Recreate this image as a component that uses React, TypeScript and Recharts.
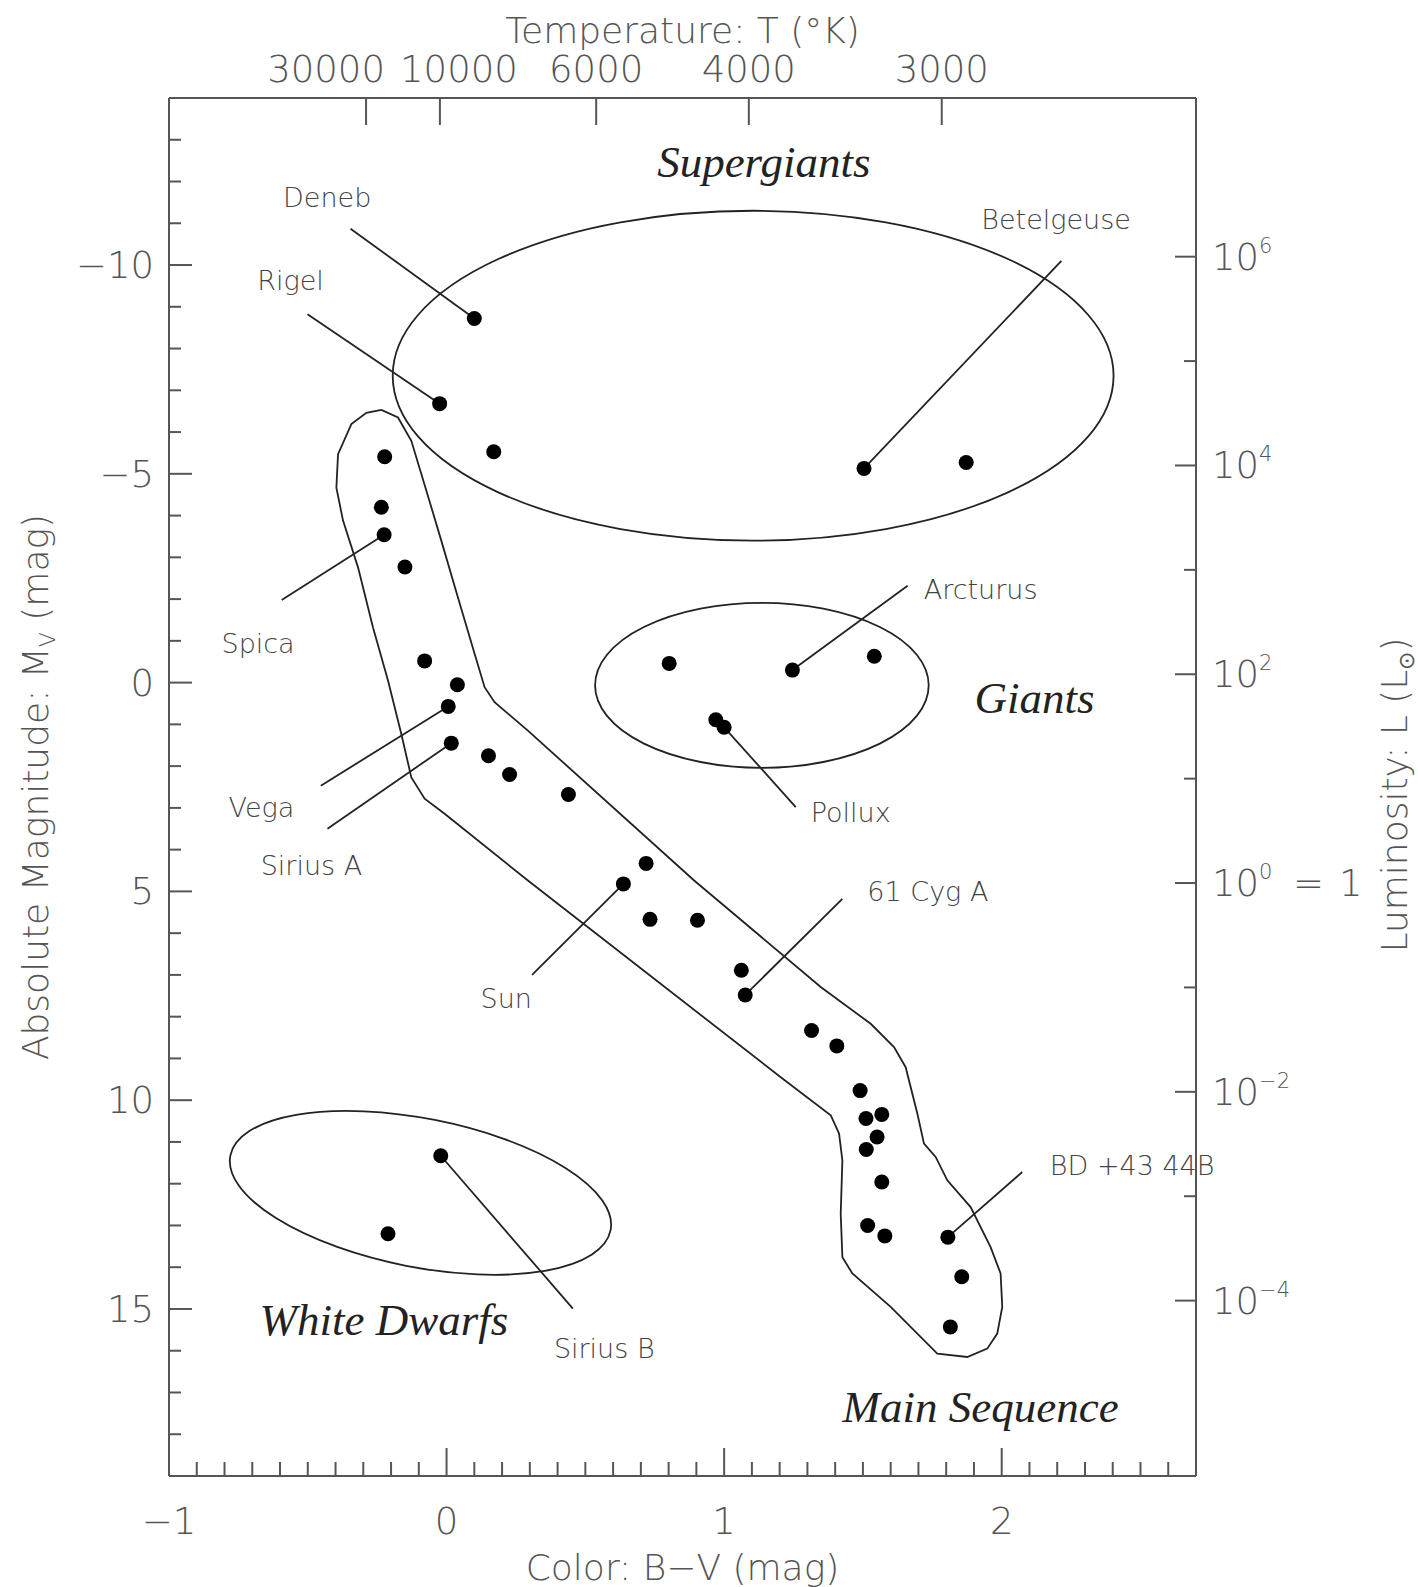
import React from "react";
import { ScatterChart, Scatter, XAxis, YAxis, ReferenceLine, ReferenceArea } from "recharts";

const W = 1418;
const H = 1587;
const SANS = "'DejaVu Sans', 'Liberation Sans', sans-serif";
const SCRIPT = "'Liberation Serif', 'DejaVu Serif', serif";
const GRAY = "#555";
const INK = "#222";

// axis ranges: colour index B-V and absolute magnitude M_V
const bvDomain = [-1, 2.7];
const mvDomain = [-14, 19];

const bvTicks = [
  -1, -0.9, -0.8, -0.7, -0.6, -0.5, -0.4, -0.3, -0.2, -0.1, 0, 0.1, 0.2, 0.3, 0.4, 0.5, 0.6, 0.7, 0.8,
  0.9, 1, 1.1, 1.2, 1.3, 1.4, 1.5, 1.6, 1.7, 1.8, 1.9, 2, 2.1, 2.2, 2.3, 2.4, 2.5, 2.6,
];
const mvTicks = [
  -13, -12, -11, -10, -9, -8, -7, -6, -5, -4, -3, -2, -1, 0, 1, 2, 3, 4, 5, 6, 7, 8, 9, 10, 11, 12, 13,
  14, 15, 16, 17, 18,
];

// temperature scale on top (placed at the matching B-V)
const tempLabels = ["30000", "10000", "6000", "4000", "3000"];
const tempTicksBV = [-0.29, -0.024, 0.539, 1.089, 1.784];

// luminosity scale on the right, in powers of ten of L_sun
const lumExponents = [6, 5, 4, 3, 2, 1, 0, -1, -2, -3, -4];
const SUN_MV = 4.8;
const lumTicksMV = lumExponents.map((e) => SUN_MV - 2.5 * e);

// stars
const supergiantStars = [
  { bv: 0.1, mv: -8.72 }, // Deneb
  { bv: -0.025, mv: -6.68 }, // Rigel
  { bv: 0.17, mv: -5.53 },
  { bv: 1.504, mv: -5.13 }, // Betelgeuse
  { bv: 1.872, mv: -5.27 },
];
const mainSeqStars = [
  { bv: -0.223, mv: -5.41 },
  { bv: -0.235, mv: -4.2 },
  { bv: -0.225, mv: -3.54 }, // Spica
  { bv: -0.15, mv: -2.77 },
  { bv: -0.079, mv: -0.52 },
  { bv: 0.039, mv: 0.05 },
  { bv: 0.006, mv: 0.57 }, // Vega
  { bv: 0.017, mv: 1.45 }, // Sirius A
  { bv: 0.151, mv: 1.75 },
  { bv: 0.227, mv: 2.2 },
  { bv: 0.439, mv: 2.68 },
  { bv: 0.719, mv: 4.33 },
  { bv: 0.637, mv: 4.82 }, // Sun
  { bv: 0.733, mv: 5.67 },
  { bv: 0.904, mv: 5.69 },
  { bv: 1.062, mv: 6.89 },
  { bv: 1.076, mv: 7.48 }, // 61 Cyg A
  { bv: 1.315, mv: 8.33 },
  { bv: 1.406, mv: 8.7 },
  { bv: 1.49, mv: 9.77 },
  { bv: 1.511, mv: 10.44 },
  { bv: 1.568, mv: 10.34 },
  { bv: 1.551, mv: 10.88 },
  { bv: 1.512, mv: 11.18 },
  { bv: 1.568, mv: 11.96 },
  { bv: 1.517, mv: 13.0 },
  { bv: 1.579, mv: 13.25 },
  { bv: 1.806, mv: 13.28 }, // BD +43 44B
  { bv: 1.856, mv: 14.23 },
  { bv: 1.815, mv: 15.43 },
];
const giantStars = [
  { bv: 0.802, mv: -0.46 },
  { bv: 1.246, mv: -0.3 }, // Arcturus
  { bv: 1.541, mv: -0.63 },
  { bv: 0.97, mv: 0.89 },
  { bv: 1.0, mv: 1.07 }, // Pollux
];
const whiteDwarfStars = [
  { bv: -0.021, mv: 11.33 }, // Sirius B
  { bv: -0.211, mv: 13.2 },
];

// outline drawn round the main sequence
const mainSeqOutline = [
  { bv: -0.235, mv: -6.53 }, { bv: -0.175, mv: -6.35 }, { bv: -0.127, mv: -5.79 }, { bv: -0.073, mv: -4.6 },
  { bv: -0.019, mv: -3.4 }, { bv: 0.041, mv: -2.04 }, { bv: 0.101, mv: -0.69 }, { bv: 0.137, mv: 0.11 },
  { bv: 0.173, mv: 0.47 }, { bv: 0.293, mv: 1.15 }, { bv: 0.892, mv: 4.74 }, { bv: 1.348, mv: 7.29 },
  { bv: 1.528, mv: 8.17 }, { bv: 1.612, mv: 8.73 }, { bv: 1.654, mv: 9.21 }, { bv: 1.696, mv: 10.32 },
  { bv: 1.72, mv: 11.04 }, { bv: 1.762, mv: 11.36 }, { bv: 1.804, mv: 11.92 }, { bv: 1.888, mv: 12.56 },
  { bv: 1.96, mv: 13.52 }, { bv: 1.996, mv: 14.15 }, { bv: 2.002, mv: 14.95 }, { bv: 1.984, mv: 15.59 },
  { bv: 1.948, mv: 15.95 }, { bv: 1.876, mv: 16.15 }, { bv: 1.768, mv: 16.07 }, { bv: 1.6, mv: 14.95 },
  { bv: 1.462, mv: 14.15 }, { bv: 1.426, mv: 13.76 }, { bv: 1.42, mv: 12.72 }, { bv: 1.426, mv: 11.44 },
  { bv: 1.414, mv: 10.8 }, { bv: 1.384, mv: 10.36 }, { bv: 1.204, mv: 9.45 }, { bv: 0.293, mv: 4.74 },
  { bv: -0.007, mv: 3.14 }, { bv: -0.079, mv: 2.78 }, { bv: -0.127, mv: 2.27 }, { bv: -0.163, mv: 1.23 },
  { bv: -0.211, mv: -0.05 }, { bv: -0.265, mv: -1.32 }, { bv: -0.319, mv: -2.76 }, { bv: -0.373, mv: -3.88 },
  { bv: -0.397, mv: -4.67 }, { bv: -0.391, mv: -5.47 }, { bv: -0.343, mv: -6.19 }, { bv: -0.289, mv: -6.46 },
  { bv: -0.235, mv: -6.53 },
];

// ellipses round the other groups: [bv1, bv2], [mv1, mv2], tilt in degrees
const supergiantBox = { bv: [-0.194, 2.403], mv: [-11.3, -3.4], tilt: 0 };
const giantBox = { bv: [0.535, 1.737], mv: [-1.91, 2.04], tilt: 0 };
const whiteDwarfBox = { bv: [-0.792, 0.604], mv: [10.44, 14.0], tilt: 11.1 };

const starLabels = [
  { text: "Deneb", bv: -0.43, mv: -11.62 },
  { text: "Rigel", bv: -0.562, mv: -9.62 },
  { text: "Betelgeuse", bv: 2.196, mv: -11.08 },
  { text: "Spica", bv: -0.679, mv: -0.93 },
  { text: "Vega", bv: -0.667, mv: 2.98 },
  { text: "Sirius A", bv: -0.487, mv: 4.38 },
  { text: "Arcturus", bv: 1.924, mv: -2.23 },
  { text: "Pollux", bv: 1.456, mv: 3.11 },
  { text: "61 Cyg A", bv: 1.734, mv: 5.0 },
  { text: "Sun", bv: 0.215, mv: 7.57 },
  { text: "BD +43 44B", bv: 2.47, mv: 11.56 },
  { text: "Sirius B", bv: 0.568, mv: 15.94 },
];

const leaders = [
  { from: { bv: -0.346, mv: -10.87 }, to: { bv: 0.1, mv: -8.72 } },
  { from: { bv: -0.501, mv: -8.82 }, to: { bv: -0.025, mv: -6.68 } },
  { from: { bv: 2.215, mv: -10.1 }, to: { bv: 1.504, mv: -5.13 } },
  { from: { bv: -0.594, mv: -1.98 }, to: { bv: -0.225, mv: -3.54 } },
  { from: { bv: -0.453, mv: 2.47 }, to: { bv: 0.006, mv: 0.57 } },
  { from: { bv: -0.429, mv: 3.5 }, to: { bv: 0.017, mv: 1.45 } },
  { from: { bv: 1.661, mv: -2.32 }, to: { bv: 1.246, mv: -0.3 } },
  { from: { bv: 1.258, mv: 2.98 }, to: { bv: 1.0, mv: 1.07 } },
  { from: { bv: 1.426, mv: 5.18 }, to: { bv: 1.076, mv: 7.48 } },
  { from: { bv: 0.308, mv: 7.0 }, to: { bv: 0.637, mv: 4.82 } },
  { from: { bv: 2.074, mv: 11.72 }, to: { bv: 1.806, mv: 13.28 } },
  { from: { bv: 0.455, mv: 14.99 }, to: { bv: -0.021, mv: 11.33 } },
];

const groupLabels = [
  { text: "Supergiants", bv: 1.143, mv: -12.47 },
  { text: "Giants", bv: 2.118, mv: 0.38 },
  { text: "White Dwarfs", bv: -0.226, mv: 15.27 },
  { text: "Main Sequence", bv: 1.924, mv: 17.35 },
];

const axisLine = { stroke: GRAY, strokeWidth: 2 };
const tickText = { fontFamily: SANS, fontSize: 37, fill: GRAY, fontWeight: 200 };
const minus = (v: number) => (v < 0 ? "\u2212" + Math.abs(v) : String(v));
// the two hottest labels are nudged apart so they do not collide
const tempLabelShift = [-40, 19, 0, 0, 0];

const BottomTick = (p: any) => {
  const v = p.payload.value;
  const major = Math.abs(v - Math.round(v)) < 1e-6;
  return (
    <g>
      {v > -1 && (
        <line x1={p.x} x2={p.x} y1={p.y} y2={p.y - (major ? 28 : 14)} stroke={GRAY} strokeWidth={2} />
      )}
      {major && (
        <text x={p.x} y={p.y + 58} textAnchor="middle" {...tickText}>
          {minus(Math.round(v))}
        </text>
      )}
    </g>
  );
};

const TopTick = (p: any) => {
  const i = tempTicksBV.indexOf(p.payload.value);
  return (
    <g>
      <line x1={p.x} x2={p.x} y1={p.y} y2={p.y + 27} stroke={GRAY} strokeWidth={2} />
      <text x={p.x + tempLabelShift[i]} y={p.y - 16} textAnchor="middle" {...tickText}>
        {tempLabels[i]}
      </text>
    </g>
  );
};

const LeftTick = (p: any) => {
  const v = p.payload.value;
  const major = v % 5 === 0;
  return (
    <g>
      <line x1={p.x} x2={p.x + (major ? 23 : 12)} y1={p.y} y2={p.y} stroke={GRAY} strokeWidth={2} />
      {major && (
        <text x={p.x - 15} y={p.y + 13} textAnchor="end" {...tickText}>
          {minus(v)}
        </text>
      )}
    </g>
  );
};

const RightTick = (p: any) => {
  const e = lumExponents[p.index];
  const major = e % 2 === 0;
  return (
    <g>
      <line x1={p.x - (major ? 21 : 12)} x2={p.x} y1={p.y} y2={p.y} stroke={GRAY} strokeWidth={2} />
      {major && (
        <text x={p.x + 16} y={p.y + 13} textAnchor="start" {...tickText}>
          10
          <tspan dy={-17} fontSize={21}>
            {minus(e)}
          </tspan>
          {e === 0 && (
            <>
              <tspan x={p.x + 97} dy={17}>=</tspan>
              <tspan x={p.x + 143}>1</tspan>
            </>
          )}
        </text>
      )}
    </g>
  );
};

const titleText = { fontFamily: SANS, fontSize: 36, fill: GRAY, fontWeight: 200 };

const ellipseShape = (tilt: number) => (p: any) => {
  const cx = p.x + p.width / 2;
  const cy = p.y + p.height / 2;
  return (
    <ellipse
      cx={cx}
      cy={cy}
      rx={p.width / 2}
      ry={p.height / 2}
      transform={`rotate(${tilt} ${cx} ${cy})`}
      fill="none"
      stroke={INK}
      strokeWidth={1.8}
    />
  );
};

const Dot = (p: any) => <circle cx={p.cx} cy={p.cy} r={7.5} fill="#000" />;

export default function App() {
  const boxes = [supergiantBox, giantBox, whiteDwarfBox];
  return (
    <div style={{ position: "absolute", left: 0, top: 0, width: W, height: H, background: "#fff" }}>
      <ScatterChart width={W} height={H} margin={{ top: 0, right: 0, bottom: 0, left: 0 }}>
        <XAxis
          type="number"
          dataKey="bv"
          domain={bvDomain}
          ticks={bvTicks}
          interval={0}
          height={111}
          tickSize={0}
          tickMargin={0}
          tickLine={false}
          axisLine={axisLine}
          tick={(p: any) => <BottomTick {...p} />}
          label={(p: any) => (
            <text x={p.viewBox.x + p.viewBox.width / 2} y={p.viewBox.y + 104} textAnchor="middle" {...titleText}>
              Color: B{"\u2212"}V (mag)
            </text>
          )}
        />
        <XAxis
          xAxisId="top"
          orientation="top"
          type="number"
          dataKey="bv"
          domain={bvDomain}
          ticks={tempTicksBV}
          interval={0}
          height={98}
          tickSize={0}
          tickMargin={0}
          tickLine={false}
          axisLine={axisLine}
          tick={(p: any) => <TopTick {...p} />}
          label={(p: any) => (
            <text x={p.viewBox.x + p.viewBox.width / 2} y={43} textAnchor="middle" {...titleText}>
              Temperature: T (°K)
            </text>
          )}
        />
        <YAxis
          type="number"
          dataKey="mv"
          domain={mvDomain}
          reversed
          ticks={mvTicks}
          interval={0}
          width={169}
          tickSize={0}
          tickMargin={0}
          tickLine={false}
          axisLine={axisLine}
          tick={(p: any) => <LeftTick {...p} />}
          label={(p: any) => {
            const cy = p.viewBox.y + p.viewBox.height / 2;
            return (
              <text x={48} y={cy} textAnchor="middle" transform={`rotate(-90 48 ${cy})`} {...titleText}>
                Absolute Magnitude: M
                <tspan fontSize={22} dy={7}>V</tspan>
                <tspan dy={-7}> (mag)</tspan>
              </text>
            );
          }}
        />
        <YAxis
          yAxisId="right"
          orientation="right"
          type="number"
          dataKey="mv"
          domain={mvDomain}
          reversed
          ticks={lumTicksMV}
          interval={0}
          width={222}
          tickSize={0}
          tickMargin={0}
          tickLine={false}
          axisLine={axisLine}
          tick={(p: any) => <RightTick {...p} />}
          label={(p: any) => {
            const cy = p.viewBox.y + p.viewBox.height / 2 + 8;
            return (
              <text x={1407} y={cy} textAnchor="middle" transform={`rotate(-90 1407 ${cy})`} {...titleText}>
                Luminosity: L (L
                <tspan fontSize={22} dy={7}>{"\u2299"}</tspan>
                <tspan dy={-7}>)</tspan>
              </text>
            );
          }}
        />

        {boxes.map((b, i) => (
          <ReferenceArea
            key={"e" + i}
            x1={b.bv[0]}
            x2={b.bv[1]}
            y1={b.mv[0]}
            y2={b.mv[1]}
            ifOverflow="visible"
            shape={ellipseShape(b.tilt)}
          />
        ))}

        <Scatter
          data={mainSeqOutline}
          isAnimationActive={false}
          line={{ stroke: INK, strokeWidth: 1.8, fill: "none" }}
          lineType="joint"
          shape={() => <g />}
        />

        {leaders.map((l, i) => (
          <ReferenceLine
            key={"l" + i}
            segment={[
              { x: l.from.bv, y: l.from.mv },
              { x: l.to.bv, y: l.to.mv },
            ]}
            stroke={INK}
            strokeWidth={1.8}
            ifOverflow="visible"
          />
        ))}

        <Scatter data={supergiantStars} isAnimationActive={false} shape={Dot} />
        <Scatter data={mainSeqStars} isAnimationActive={false} shape={Dot} />
        <Scatter data={giantStars} isAnimationActive={false} shape={Dot} />
        <Scatter data={whiteDwarfStars} isAnimationActive={false} shape={Dot} />

        <Scatter
          data={starLabels}
          isAnimationActive={false}
          shape={(p: any) => (
            <text
              x={p.cx}
              y={p.cy}
              textAnchor="middle"
              dominantBaseline="central"
              fontFamily={SANS}
              fontSize={27}
              fontWeight={200}
              fill="#444"
            >
              {p.payload.text}
            </text>
          )}
        />
        {/* group names are placed through the top / right axes (same ranges) so those axes get data */}
        <Scatter
          data={groupLabels}
          xAxisId="top"
          yAxisId="right"
          isAnimationActive={false}
          shape={(p: any) => (
            <text
              x={p.cx}
              y={p.cy}
              textAnchor="middle"
              dominantBaseline="central"
              fontFamily={SCRIPT}
              fontStyle="italic"
              fontSize={45}
              fill={INK}
            >
              {p.payload.text}
            </text>
          )}
        />
      </ScatterChart>
    </div>
  );
}
